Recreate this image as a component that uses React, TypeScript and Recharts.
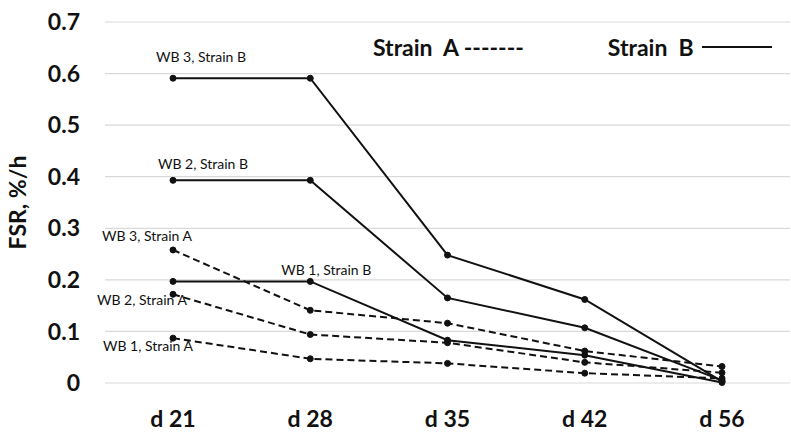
import { CartesianGrid, LabelList, Legend, Line, LineChart, XAxis, YAxis } from 'recharts'

const days = ['d 21', 'd 28', 'd 35', 'd 42', 'd 56']

const wb1StrainA = [0.087, 0.047, 0.038, 0.019, 0.009]
const wb2StrainA = [0.172, 0.094, 0.078, 0.04, 0.02]
const wb3StrainA = [0.258, 0.141, 0.116, 0.062, 0.032]
const wb1StrainB = [0.197, 0.197, 0.083, 0.054, 0.001]
const wb2StrainB = [0.393, 0.393, 0.165, 0.107, 0.005]
const wb3StrainB = [0.591, 0.591, 0.248, 0.162, 0.003]

const yTicks = [0, 0.1, 0.2, 0.3, 0.4, 0.5, 0.6, 0.7]

const data = days.map((day, i) => ({
  day,
  wb1A: wb1StrainA[i],
  wb2A: wb2StrainA[i],
  wb3A: wb3StrainA[i],
  wb1B: wb1StrainB[i],
  wb2B: wb2StrainB[i],
  wb3B: wb3StrainB[i],
}))

// label placement is relative to one point of each line
const series = [
  { key: 'wb1A', name: 'WB 1, Strain A', dashed: true, at: 0, dx: -25, dy: 7 },
  { key: 'wb2A', name: 'WB 2, Strain A', dashed: true, at: 0, dx: -31, dy: 5 },
  { key: 'wb3A', name: 'WB 3, Strain A', dashed: true, at: 0, dx: -26, dy: -14 },
  { key: 'wb1B', name: 'WB 1, Strain B', dashed: false, at: 1, dx: 16, dy: -12 },
  { key: 'wb2B', name: 'WB 2, Strain B', dashed: false, at: 0, dx: 30, dy: -17 },
  { key: 'wb3B', name: 'WB 3, Strain B', dashed: false, at: 0, dx: 28, dy: -22 },
]

const font = 'Lato, "Open Sans", sans-serif'
const ink = '#111'

function StrainLegend() {
  const style = { fontFamily: font, fontWeight: 700, fontSize: 23, color: ink, whiteSpace: 'pre' as const, lineHeight: '26px' }
  return (
    <div style={{ display: 'flex', alignItems: 'center', width: 420 }}>
      <span style={style}>Strain  A -------</span>
      <span style={{ ...style, marginLeft: 84 }}>Strain  B</span>
      <span style={{ display: 'inline-block', width: 70, height: 2, background: ink, marginLeft: 8 }} />
    </div>
  )
}

export default function App() {
  return (
    <div style={{ position: 'absolute', left: 0, top: 0, background: '#fff' }}>
      <LineChart width={791} height={435} data={data} margin={{ top: 22, right: 1, bottom: 0, left: 0 }}>
        <CartesianGrid vertical={false} stroke="#d9d9d9" strokeWidth={1.2} />
        <XAxis
          dataKey="day"
          axisLine={false}
          tickLine={false}
          height={52}
          padding={{ left: 68, right: 68 }}
          tickMargin={22}
          tick={{ fontFamily: font, fontWeight: 700, fontSize: 23, fill: ink }}
        />
        <YAxis
          domain={[0, 0.7]}
          ticks={yTicks}
          width={105}
          axisLine={false}
          tickLine={false}
          tickMargin={19}
          tick={{ fontFamily: font, fontWeight: 700, fontSize: 23, fill: ink }}
          label={{
            value: 'FSR, %/h',
            angle: -90,
            position: 'insideLeft',
            offset: 18,
            style: { fontFamily: font, fontWeight: 700, fontSize: 23, fill: ink, textAnchor: 'middle' },
          }}
        />
        <Legend
          layout="horizontal"
          verticalAlign="middle"
          align="center"
          content={() => <StrainLegend />}
          wrapperStyle={{ top: 34, left: 373, width: 420 }}
        />
        {series.map((s) => (
          <Line
            key={s.key}
            dataKey={s.key}
            name={s.name}
            type="linear"
            stroke={ink}
            strokeWidth={2}
            strokeDasharray={s.dashed ? '7 4' : undefined}
            dot={{ r: 3, fill: ink, stroke: ink, strokeWidth: 1, strokeDasharray: '' }}
            activeDot={false}
            isAnimationActive={false}
          >
            <LabelList
              dataKey={s.key}
              content={(props: any) => {
                if (props.index !== s.at) return null
                return (
                  <text
                    x={props.x + s.dx}
                    y={props.y + s.dy}
                    textAnchor="middle"
                    dominantBaseline="central"
                    fontFamily={font}
                    fontSize={14}
                    fill={ink}
                  >
                    {s.name}
                  </text>
                )
              }}
            />
          </Line>
        ))}
      </LineChart>
    </div>
  )
}
